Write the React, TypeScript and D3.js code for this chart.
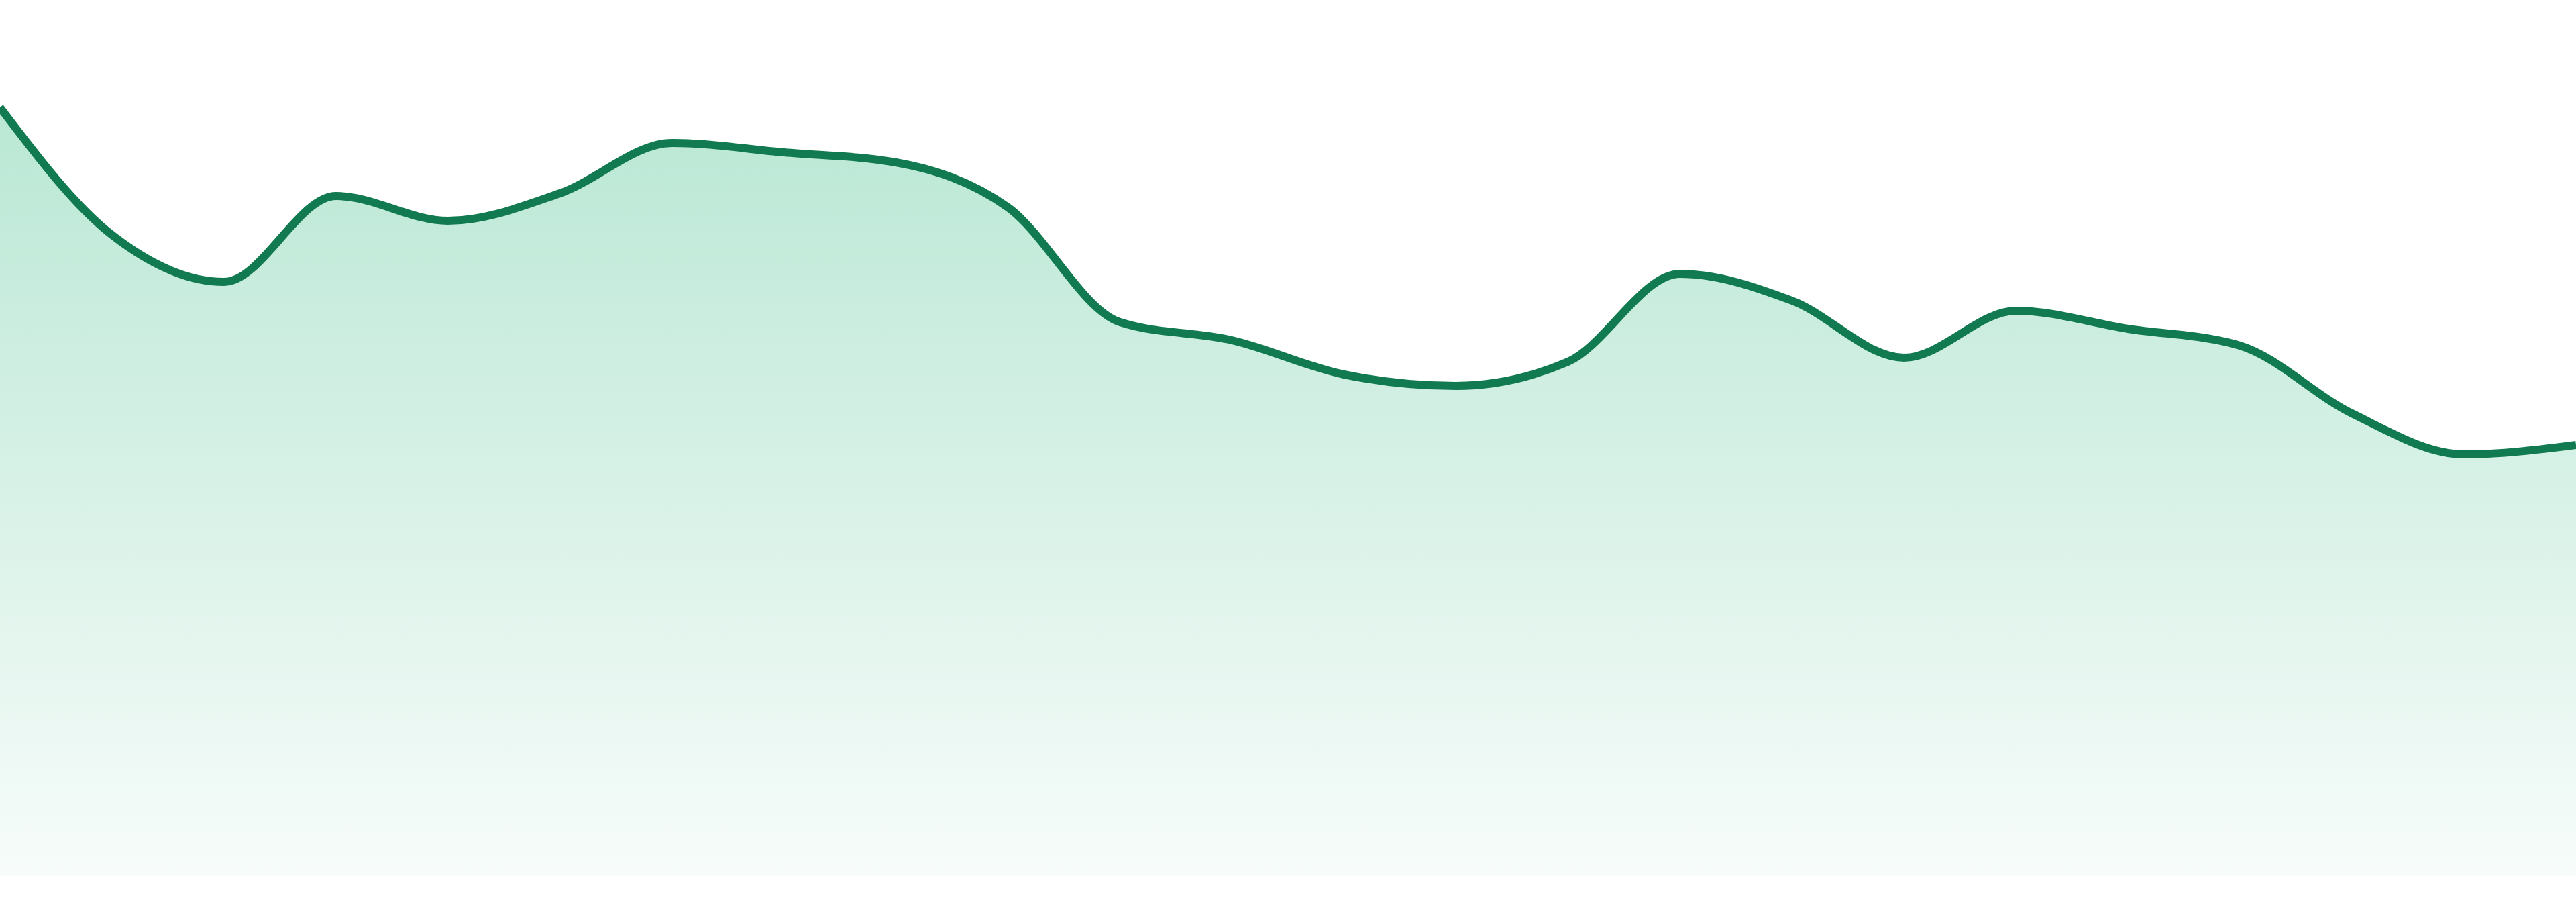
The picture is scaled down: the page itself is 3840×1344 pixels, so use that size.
import React, { useEffect, useRef } from "react";
import * as d3 from "d3";

const WIDTH = 3840;
const HEIGHT = 1344;

const hours: string[] = [
  "00:00", "01:00", "02:00", "03:00", "04:00", "05:00", "06:00", "07:00",
  "08:00", "09:00", "10:00", "11:00", "12:00", "13:00", "14:00", "15:00",
  "16:00", "17:00", "18:00", "19:00", "20:00", "21:00", "22:00", "23:00",
];

const values: number[] = [
  114.5, 95.5, 88.5, 101.3, 97.6, 101.7, 109.2, 107.8,
  106.3, 99.6, 82.5, 79.8, 74.7, 73.0, 76.6, 89.7,
  85.7, 77.2, 84.2, 81.5, 79.0, 68.9, 62.8, 64.2,
];

const yDomain: [number, number] = [0, 120];

export default function App() {
  const ref = useRef<SVGSVGElement | null>(null);

  useEffect(() => {
    document.body.style.margin = "0";
    const svg = d3.select(ref.current);
    svg.selectAll("*").remove();

    const x = d3.scalePoint<string>().domain(hours).range([0, WIDTH]);
    const y = d3.scaleLinear().domain(yDomain).range([1305, 105]);

    const data = hours.map((h, i) => ({ h, v: values[i] }));

    const defs = svg.append("defs");
    const grad = defs
      .append("linearGradient")
      .attr("id", "areaGrad")
      .attr("gradientUnits", "userSpaceOnUse")
      .attr("x1", 0)
      .attr("y1", 150)
      .attr("x2", 0)
      .attr("y2", 1305);
    grad.append("stop").attr("offset", "0%").attr("stop-color", "#b9e7d4");
    grad.append("stop").attr("offset", "100%").attr("stop-color", "#f7fcfa");

    const area = d3
      .area<{ h: string; v: number }>()
      .x((d) => x(d.h) as number)
      .y0(y(0))
      .y1((d) => y(d.v))
      .curve(d3.curveMonotoneX);

    const line = d3
      .line<{ h: string; v: number }>()
      .x((d) => x(d.h) as number)
      .y((d) => y(d.v))
      .curve(d3.curveMonotoneX);

    svg.append("path").datum(data).attr("d", area).attr("fill", "url(#areaGrad)");
    svg
      .append("path")
      .datum(data)
      .attr("d", line)
      .attr("fill", "none")
      .attr("stroke", "#117a50")
      .attr("stroke-width", 12)
      .attr("stroke-linejoin", "round");
  }, []);

  return (
    <div style={{ position: "absolute", left: 0, top: 0 }}>
      <svg ref={ref} width={WIDTH} height={HEIGHT} style={{ display: "block", background: "#ffffff" }} />
    </div>
  );
}
